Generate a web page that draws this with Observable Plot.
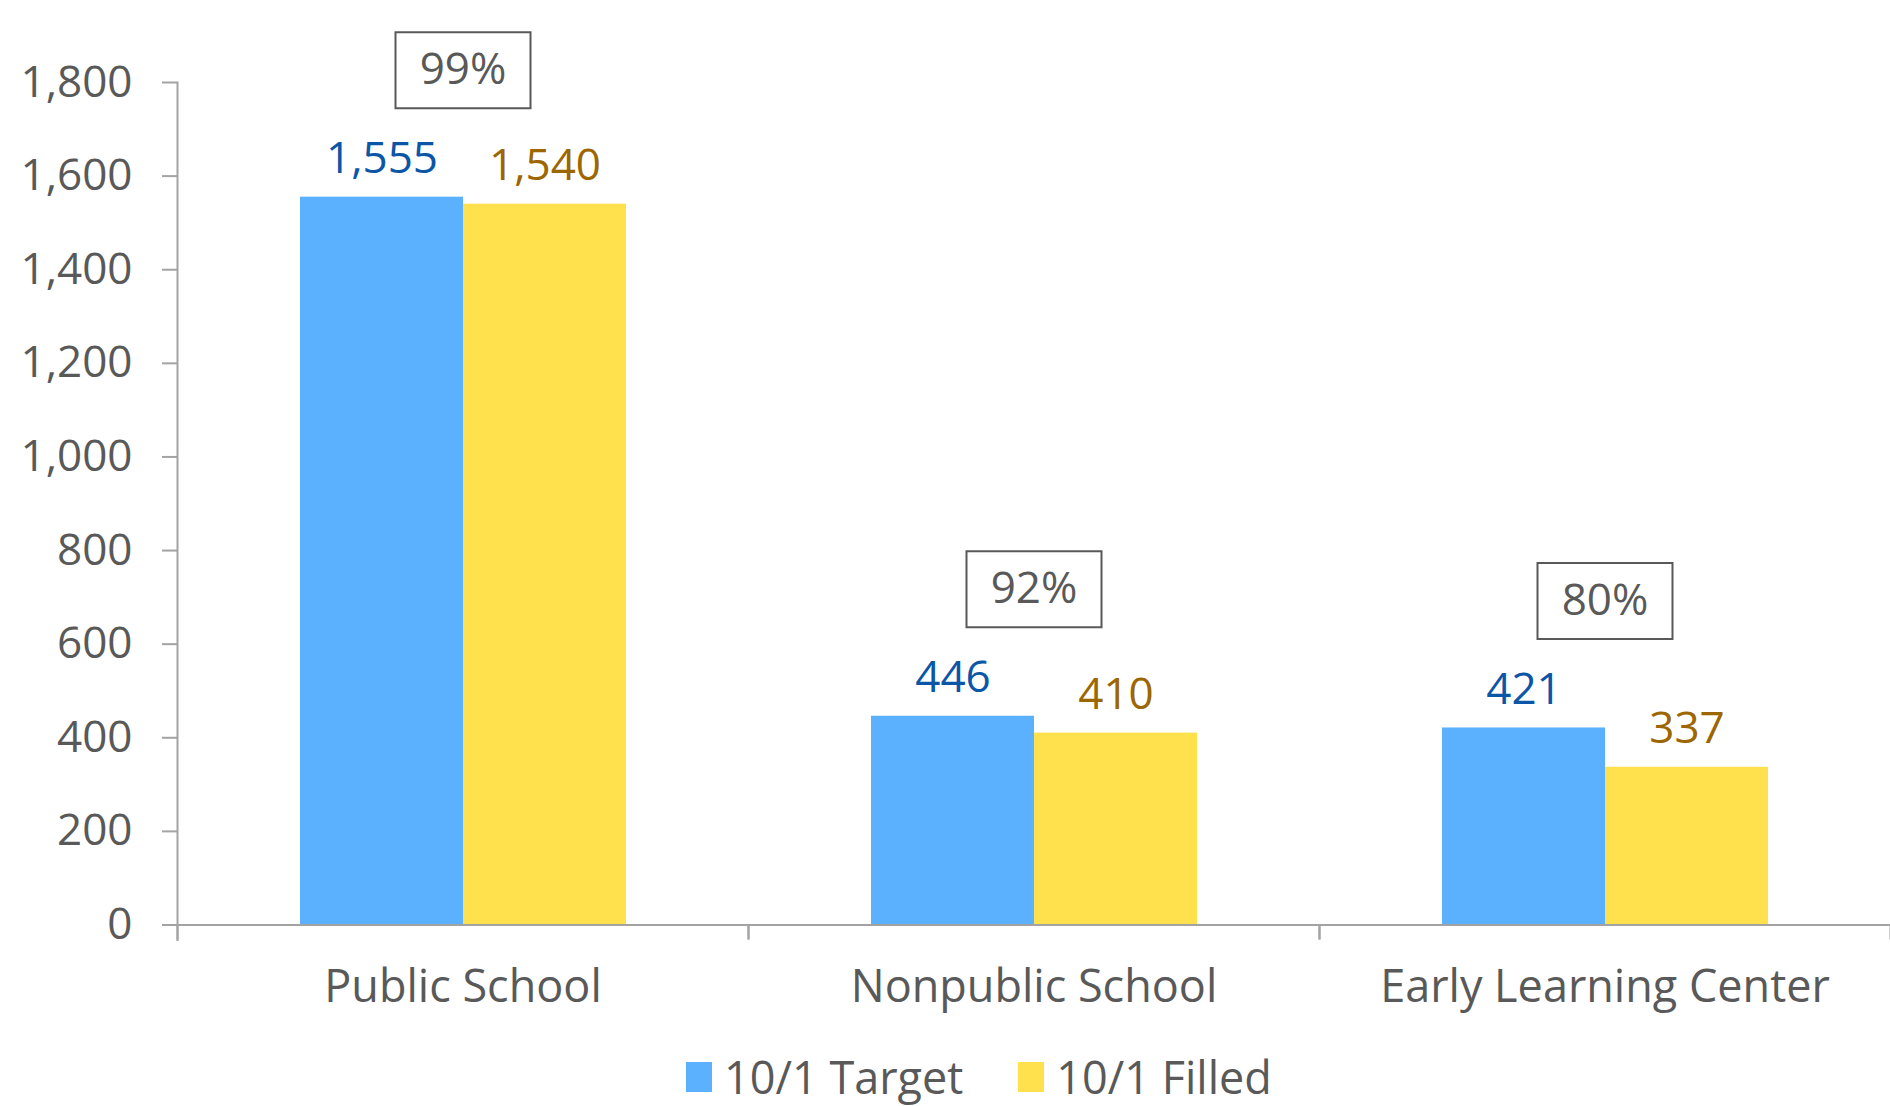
<!DOCTYPE html>
<html>
<head>
<meta charset="utf-8">
<script src="https://cdn.jsdelivr.net/npm/d3@7"></script>
<script src="https://cdn.jsdelivr.net/npm/@observablehq/plot@0.6"></script>
<style>
  html, body { margin: 0; padding: 0; background: #ffffff; }
  body { width: 1890px; height: 1106px; overflow: hidden; font-family: "Open Sans", sans-serif; }
  #chart svg { display: block; }
  #legend { display: flex; align-items: center; height: 50px; padding-top: 12px; margin-left: 686px; }
  .item { display: flex; align-items: center; margin-right: 55px; }
  .swatch { width: 26px; height: 30px; margin-right: 12px; }
  .label { font-size: 45px; font-weight: 500; line-height: 50px; color: #595959; white-space: nowrap; }
</style>
</head>
<body>
<div id="chart"></div>
<div id="legend"></div>
<script>
// ---- data ----
const categories = ["Public School", "Nonpublic School", "Early Learning Center"];
const seriesNames = ["10/1 Target", "10/1 Filled"];
const target = [1555, 446, 421];
const filled = [1540, 410, 337];
const yTicks = [0, 200, 400, 600, 800, 1000, 1200, 1400, 1600, 1800];

// ---- styles ----
const barColors = ["#5CB1FF", "#FFE04D"];
const labelColors = ["#0B56A6", "#9C6600"];
const textGray = "#595959";
const axisGray = "#A3A3A3";

const rows = categories.flatMap((c, i) => [
  {category: c, series: seriesNames[0], value: target[i]},
  {category: c, series: seriesNames[1], value: filled[i]}
]);
const groups = categories.map((c, i) => ({
  category: c,
  target: target[i],
  pct: Math.round(filled[i] / target[i] * 100) + "%"
}));

const W = 1890, H = 1040, ML = 177, MT = 82, MB = H - 924.5;
const band = (W - ML) / categories.length;

const boxSymbol = {
  draw(ctx) {
    ctx.moveTo(-67.5, -38);
    ctx.lineTo(67.5, -38);
    ctx.lineTo(67.5, 38);
    ctx.lineTo(-67.5, 38);
    ctx.closePath();
  }
};

const fmt = d3.format(",");

const chart = Plot.plot({
  width: W,
  height: H,
  marginLeft: ML,
  marginRight: 0,
  marginTop: MT,
  marginBottom: MB,
  style: {fontFamily: "'Open Sans', sans-serif", fontSize: "44px", fontWeight: 500, background: "white", overflow: "visible"},
  fx: {domain: categories, padding: 0, label: null},
  x: {domain: seriesNames, paddingInner: 0, paddingOuter: 0.746, axis: null},
  y: {domain: [0, 1800], label: null},
  color: {domain: seriesNames, range: barColors},
  marks: [
    Plot.barY(rows, {fx: "category", x: "series", y: "value", fill: "series"}),
    Plot.ruleY([0], {stroke: axisGray, strokeWidth: 2}),
    Plot.frame({anchor: "left", facetAnchor: "left", stroke: axisGray, strokeWidth: 2, insetBottom: -15}),
    Plot.axisY({ticks: yTicks, tickFormat: fmt, tickSize: 15, tickPadding: 30, stroke: axisGray, strokeWidth: 2, fill: textGray, fontSize: 44, label: null}),
    Plot.axisFx({anchor: "bottom", tickSize: 0, tickPadding: 45, fill: textGray, fontSize: 45, label: null}),
    Plot.axisFx({anchor: "bottom", tickSize: 15, tickFormat: () => "", dx: -band / 2, stroke: axisGray, strokeWidth: 2, label: null}),
    Plot.axisFx({anchor: "bottom", tickSize: 15, tickFormat: () => "", dx: band / 2, stroke: axisGray, strokeWidth: 2, label: null}),
    Plot.text(rows.filter(d => d.series === seriesNames[0]), {
      fx: "category", x: "series", y: "value", text: d => fmt(d.value),
      dy: -24, lineAnchor: "bottom", fill: labelColors[0], fontSize: 44
    }),
    Plot.text(rows.filter(d => d.series === seriesNames[1]), {
      fx: "category", x: "series", y: "value", text: d => fmt(d.value),
      dy: -24, lineAnchor: "bottom", fill: labelColors[1], fontSize: 44
    }),
    Plot.dot(groups, {fx: "category", y: "target", symbol: boxSymbol, r: 10, fill: "white", stroke: textGray, strokeWidth: 2, dy: -127}),
    Plot.text(groups, {fx: "category", y: "target", text: "pct", dy: -127, lineAnchor: "middle", fill: textGray, fontSize: 44})
  ]
});
document.getElementById("chart").appendChild(chart);

// legend
const legend = document.getElementById("legend");
seriesNames.forEach((s, i) => {
  const item = document.createElement("div");
  item.className = "item";
  const sw = document.createElement("div");
  sw.className = "swatch";
  sw.style.background = barColors[i];
  const lb = document.createElement("div");
  lb.className = "label";
  lb.textContent = s;
  item.appendChild(sw);
  item.appendChild(lb);
  legend.appendChild(item);
});
</script>
</body>
</html>
